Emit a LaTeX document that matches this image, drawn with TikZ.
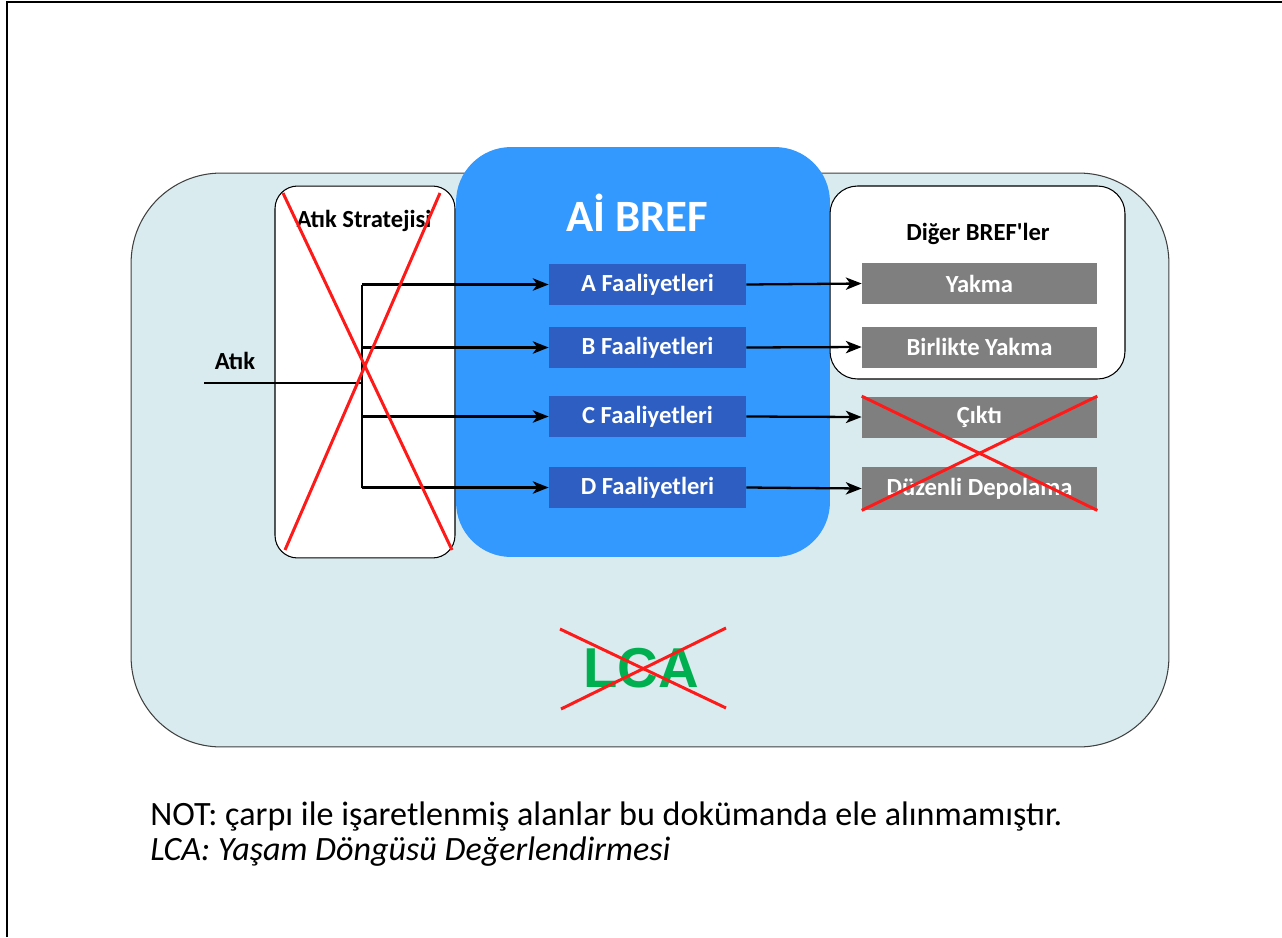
\documentclass[tikz,border=0pt]{standalone}
\usepackage{fontspec}
\setmainfont{Carlito}
\newfontfamily\quotefont{Carlito}
\newfontfamily\lcafont{Liberation Sans}
\usetikzlibrary{arrows.meta,calc}
\definecolor{bgblue}{HTML}{D9EBEE}
\definecolor{brefblue}{HTML}{3399FF}
\definecolor{actblue}{HTML}{2E5EC2}
\definecolor{boxgray}{HTML}{7F7F7F}
\definecolor{lcagreen}{HTML}{00B050}
\definecolor{xred}{HTML}{FF1A1A}
\tikzset{
  lbl/.style={font=\bfseries\fontsize{14}{16}\selectfont, inner sep=0pt},
  actbox/.style={lbl, fill=actblue, text=white, minimum width=3.94cm, minimum height=0.82cm},
  graybox/.style={lbl, fill=boxgray, text=white, minimum width=4.7cm, minimum height=0.82cm},
  conn/.style={line width=1.3pt, draw=black},
  arr/.style={conn, -{Stealth[length=9pt,width=7pt,inset=2.5pt]}},
  xline/.style={draw=xred, line width=1.7pt},
  notetext/.style={anchor=base west, inner sep=0pt, font=\fontsize{19.4}{23}\selectfont}
}
\begin{document}
\begin{tikzpicture}[x=0.02cm, y=-0.02cm]
\useasboundingbox (0,0) rectangle (1282,937);
\draw[line width=1.4pt] (7,937) -- (7,2) -- (1282,2);

% background LCA area
\node[draw=black!75, fill=bgblue, rounded corners=1.8cm, minimum width=20.76cm, minimum height=11.48cm, line width=0.6pt] (lcaarea) at (650,460) {};

% waste strategy box
\node[draw=black, fill=white, rounded corners=0.45cm, minimum width=3.6cm, minimum height=7.44cm, line width=0.6pt] (strat) at (365,372) {};
\node[lbl] (strattitle) at (364,221) {Atık Stratejisi};

% AI BREF box
\node[fill=brefblue, rounded corners=1.1cm, minimum width=7.48cm, minimum height=8.2cm] (bref) at (643,352) {};
\node[font=\bfseries\fontsize{25.5}{30}\selectfont, text=white, inner sep=0pt] (breftitle) at (637,213) {Aİ BREF};

% other BREFs box
\node[draw=black, fill=white, rounded corners=0.55cm, minimum width=5.9cm, minimum height=3.86cm, line width=0.6pt] (diger) at (977.5,282.5) {};
\node[lbl] (digertitle) at (978,234) {Diğer BREF{\quotefont\bfseries'}ler};

% activities
\node[actbox] (A) at (647.5,284.5) {A Faaliyetleri};
\node[actbox] (B) at (647.5,347.5) {B Faaliyetleri};
\node[actbox] (C) at (647.5,416.5) {C Faaliyetleri};
\node[actbox] (D) at (647.5,487.5) {D Faaliyetleri};

% outputs
\node[graybox] (yakma) at (979.5,283.5) {Yakma};
\node[graybox] (birlikte) at (979.5,347) {Birlikte Yakma};
\node[graybox] (cikti) at (979.5,417) {Çıktı};
\node[graybox, minimum height=0.86cm] (duzenli) at (979.5,488.5) {Düzenli Depolama};

% waste input
\node[lbl] (atik) at (235,361) {Atık};
\coordinate (atikin) at (204,383);
\coordinate (split) at (362,383);
\draw[conn] (atikin) -- (split);
\draw[conn] (split |- A.west) -- (split |- D.west);
\foreach \n in {A,B,C,D}{
  \draw[arr] (split |- \n.west) -- (\n.west);
}
\draw[arr] (A.east) -- (yakma.west);
\draw[arr] (B.east) -- (birlikte.west);
\draw[arr] (C.east) -- (cikti.west);
\draw[arr] (D.east) -- (duzenli.west);

% LCA
\node[font=\lcafont\bfseries\fontsize{32}{36}\selectfont, text=lcagreen, inner sep=0pt] (lca) at (641,668) {LCA};

% crosses
\draw[xline] (283,193) -- (452,550);
\draw[xline] (440,193) -- (285,550);
\draw[xline] (cikti.north west) -- (duzenli.south east);
\draw[xline] (cikti.north east) -- (duzenli.south west);
\draw[xline] (560,629) -- (726,708);
\draw[xline] (726,628) -- (561,709);

% notes
\node[notetext] (note) at (150,825) {NOT: çarpı ile işaretlenmiş alanlar bu dokümanda ele alınmamıştır.};
\node[notetext, font=\itshape\fontsize{19.4}{23}\selectfont] (lcanote) at (150,860) {LCA: Yaşam Döngüsü Değerlendirmesi};
\end{tikzpicture}
\end{document}
